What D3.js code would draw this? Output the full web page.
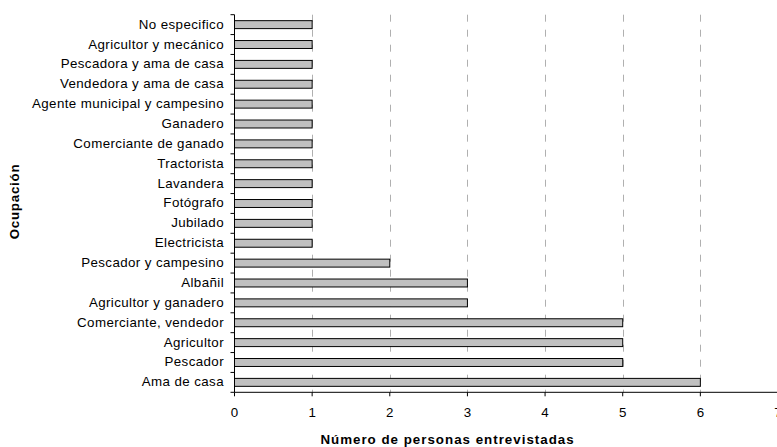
<!DOCTYPE html>
<html><head><meta charset="utf-8">
<script src="https://cdn.jsdelivr.net/npm/d3@7"></script>
<style>body{margin:0;background:#fff}svg{display:block}</style>
</head><body>
<script>
const categories = ["No especifico","Agricultor y mecánico","Pescadora y ama de casa","Vendedora y ama de casa","Agente municipal y campesino","Ganadero","Comerciante de ganado","Tractorista","Lavandera","Fotógrafo","Jubilado","Electricista","Pescador y campesino","Albañil","Agricultor y ganadero","Comerciante, vendedor","Agricultor","Pescador","Ama de casa"];
const values = [1,1,1,1,1,1,1,1,1,1,1,1,2,3,3,5,5,5,6];
const xTicks = [0,1,2,3,4,5,6,7];
const xTitle = "Número de personas entrevistadas";
const yTitle = "Ocupación";

(function(){
const W = 777, H = 447;
const pLeft = 234.5, pRight = 778, pTop = 14.7, pBottom = 392.3;
const svg = d3.select("body").append("svg").attr("width", W).attr("height", H);
const font = "Liberation Sans, Arial, sans-serif";
const fs = 13.33;

const x = d3.scaleLinear().domain([0,7]).range([pLeft, pRight]);
const y = d3.scaleBand().domain(categories).range([pTop, pBottom]).paddingInner(0.6).paddingOuter(0.3);
const yb = d3.scaleBand().domain(categories).range([pTop, pBottom]);

svg.append("g").selectAll("line").data(xTicks.filter(d => d > 0)).join("line")
  .attr("x1", d => Math.round(x(d)) + 0.5).attr("x2", d => Math.round(x(d)) + 0.5)
  .attr("y1", pTop).attr("y2", pBottom)
  .attr("stroke", "#b0b0b0").attr("stroke-width", 1).attr("stroke-dasharray", "7,8");

svg.append("g").selectAll("rect").data(categories).join("rect")
  .attr("x", pLeft).attr("y", (d) => y(d))
  .attr("width", (d, i) => x(values[i]) - pLeft).attr("height", y.bandwidth())
  .attr("fill", "#c0c0c0").attr("stroke", "#000").attr("stroke-width", 1);

const yAxis = svg.append("g").attr("transform", `translate(${pLeft},0)`);
yAxis.append("line").attr("x1", 0).attr("x2", 0).attr("y1", pTop).attr("y2", pBottom).attr("stroke", "#000");
const boundaries = categories.map(c => yb(c)).concat([pBottom]);
yAxis.selectAll("line.t").data(boundaries).join("line").attr("class","t")
  .attr("x1", -4).attr("x2", 0).attr("y1", d => d).attr("y2", d => d).attr("stroke", "#000");
yAxis.selectAll("text").data(categories).join("text")
  .attr("x", -10.5).attr("y", d => yb(d) + yb.bandwidth()/2)
  .attr("dy", "0.3em").attr("text-anchor", "end")
  .attr("font-family", font).attr("font-size", fs).attr("letter-spacing", 0.4)
  .attr("fill", "#000").text(d => d);

const xAxis = svg.append("g").attr("transform", `translate(0,${pBottom})`);
xAxis.append("line").attr("x1", pLeft).attr("x2", pRight).attr("y1", 0).attr("y2", 0).attr("stroke", "#000");
xAxis.selectAll("line.t").data(xTicks).join("line").attr("class","t")
  .attr("x1", d => x(d)).attr("x2", d => x(d)).attr("y1", 0).attr("y2", 4).attr("stroke", "#000");
xAxis.selectAll("text").data(xTicks).join("text")
  .attr("x", d => x(d)).attr("y", 24.5).attr("text-anchor", "middle")
  .attr("font-family", font).attr("font-size", fs).attr("fill", "#000").text(d => d);

svg.append("text").attr("x", 447.5).attr("y", 444.3).attr("text-anchor", "middle")
  .attr("font-family", font).attr("font-size", fs).attr("letter-spacing", 1)
  .attr("font-weight", "bold").text(xTitle);
svg.append("text").attr("transform", "translate(19,201.5) rotate(-90)").attr("text-anchor", "middle")
  .attr("font-family", font).attr("font-size", fs).attr("letter-spacing", 0.75)
  .attr("font-weight", "bold").text(yTitle);
})();
</script>
</body></html>
